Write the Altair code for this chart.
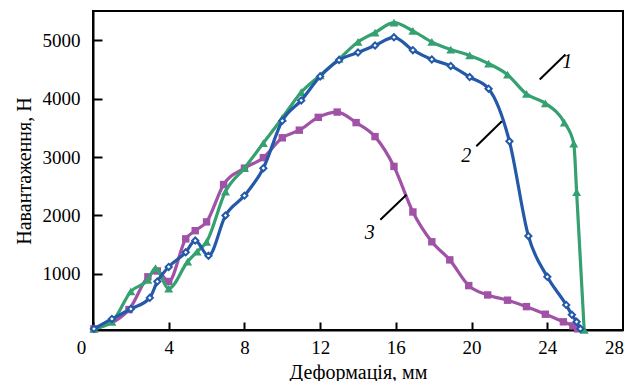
import altair as alt
import pandas as pd

# Curve 1 (green, triangles)
x1 = [0.05, 1.0, 2.0, 2.9, 3.3, 4.0, 5.0, 5.5, 6.0, 7.0, 8.0, 9.0, 10.0, 11.0, 12.0, 13.0, 14.0,
      14.9, 15.9, 16.9, 17.9, 18.9, 19.9, 20.9, 21.9, 22.9, 23.9, 24.9, 25.4, 25.55, 25.95]
y1 = [60, 180, 700, 900, 1100, 750, 1210, 1380, 1550, 2410, 2810, 3240, 3670, 4110, 4400, 4680, 4970,
      5130, 5300, 5160, 4970, 4840, 4740, 4600, 4410, 4080, 3920, 3590, 3230, 2400, 40]
# Curve 2 (blue, open diamonds)
x2 = [0.05, 1.0, 2.0, 3.0, 3.4, 4.0, 4.9, 5.4, 6.1, 7.0, 8.0, 9.0, 10.0, 11.0, 12.0, 13.0, 14.0,
      14.9, 15.9, 16.9, 17.9, 18.9, 19.9, 20.9, 22.0, 23.0, 24.0, 25.0, 25.3, 25.55, 25.75]
y2 = [60, 230, 400, 590, 870, 1120, 1370, 1570, 1310, 2000, 2340, 2810, 3620, 3970, 4380, 4660, 4790,
      4910, 5050, 4830, 4670, 4560, 4370, 4170, 3270, 1650, 950, 470, 300, 180, 60]
# Curve 3 (purple, squares)
x3 = [0.05, 1.9, 2.9, 3.4, 4.0, 4.9, 5.4, 6.0, 6.9, 8.0, 9.0, 10.0, 10.9, 11.9, 12.9, 13.9, 14.9,
      15.9, 16.9, 17.9, 18.85, 19.85, 20.85, 21.9, 22.9, 23.9, 24.85, 25.35, 25.6]
y3 = [60, 390, 950, 1050, 870, 1600, 1740, 1890, 2530, 2810, 2990, 3330, 3460, 3680, 3770, 3590, 3350,
      2840, 2060, 1550, 1240, 800, 640, 550, 440, 310, 180, 110, 60]

# Curve labels and leader lines
lab_text = ["1", "2", "3"]
lab_x = [25.06, 19.72, 14.62]
lab_y = [4624, 3012, 1698]
lead_x = [24.96, 20.25, 15.18]
lead_y = [4757, 3184, 1926]
lead_x2 = [23.6, 21.6, 16.56]
lead_y2 = [4328, 3612, 2355]

x_ticks = [0, 4, 8, 12, 16, 20, 24, 28]
y_ticks = [1000, 2000, 3000, 4000, 5000]

GREEN = "#35a070"
BLUE = "#2458a8"
PURPLE = "#a052a6"
FONT = "Liberation Serif"

xs = alt.Scale(domain=[0, 28], nice=False)
ys = alt.Scale(domain=[40, 5500], nice=False)

xaxis = alt.Axis(values=x_ticks, title="Деформація, мм", grid=False, format="d", labelFlush=False,
                 labelOffset=alt.expr("datum.value === 0 ? -12 : (datum.value === 28 ? -9 : 0)"),
                 tickSize=alt.expr("-8"), labelPadding=16, titlePadding=5)
yaxis = alt.Axis(values=y_ticks, title="Навантаження, Н", grid=False, format="d", labelFlush=False,
                 tickSize=alt.expr("-9"), labelPadding=22, titlePadding=8)


def X(field="x"):
    return alt.X(f"{field}:Q", scale=xs, axis=xaxis)


def Y(field="y"):
    return alt.Y(f"{field}:Q", scale=ys, axis=yaxis)


def series(xv, yv, color, shape, filled, size):
    df = pd.DataFrame({"x": xv, "y": yv})
    line = alt.Chart(df).mark_line(color=color, strokeWidth=3.2, interpolate="monotone").encode(x=X(), y=Y())
    if filled:
        pts = alt.Chart(df).mark_point(shape=shape, filled=True, color=color, size=size, opacity=1).encode(
            x=X(), y=Y())
    else:
        pts = alt.Chart(df).mark_point(shape=shape, filled=False, fill="white", stroke=color,
                                        strokeWidth=2, size=size, opacity=1, fillOpacity=1).encode(
            x=X(), y=Y())
    return line + pts


purple = series(x3, y3, PURPLE, "square", True, 55)
green = series(x1, y1, GREEN, "triangle-up", True, 80)
blue = series(x2, y2, BLUE, "diamond", False, 38)

labels_df = pd.DataFrame({"t": lab_text, "x": lab_x, "y": lab_y})
labels = alt.Chart(labels_df).mark_text(font=FONT, fontSize=20, fontStyle="italic", color="black").encode(
    x=X(), y=Y(), text="t:N")

lead_df = pd.DataFrame({"x": lead_x, "y": lead_y, "x2": lead_x2, "y2": lead_y2})
leads = alt.Chart(lead_df).mark_rule(color="black", strokeWidth=2).encode(
    x=X(), y=Y(), x2="x2:Q", y2="y2:Q")

chart = alt.layer(purple, green, blue, leads, labels).properties(
    width=530, height=319,
    autosize=alt.AutoSizeParams(type="none"),
    padding={"left": 85, "top": 3, "right": 1, "bottom": 51},
).configure_view(stroke="black", strokeWidth=2).configure_axis(
    labelFont=FONT, titleFont=FONT, labelFontSize=19, titleFontSize=20,
    labelColor="black", titleColor="black", titleFontWeight="normal",
    domainColor="black", domainWidth=2, tickColor="black", tickWidth=2,
)

chart.save("out.html", embed_options={"renderer": "svg", "actions": False})
